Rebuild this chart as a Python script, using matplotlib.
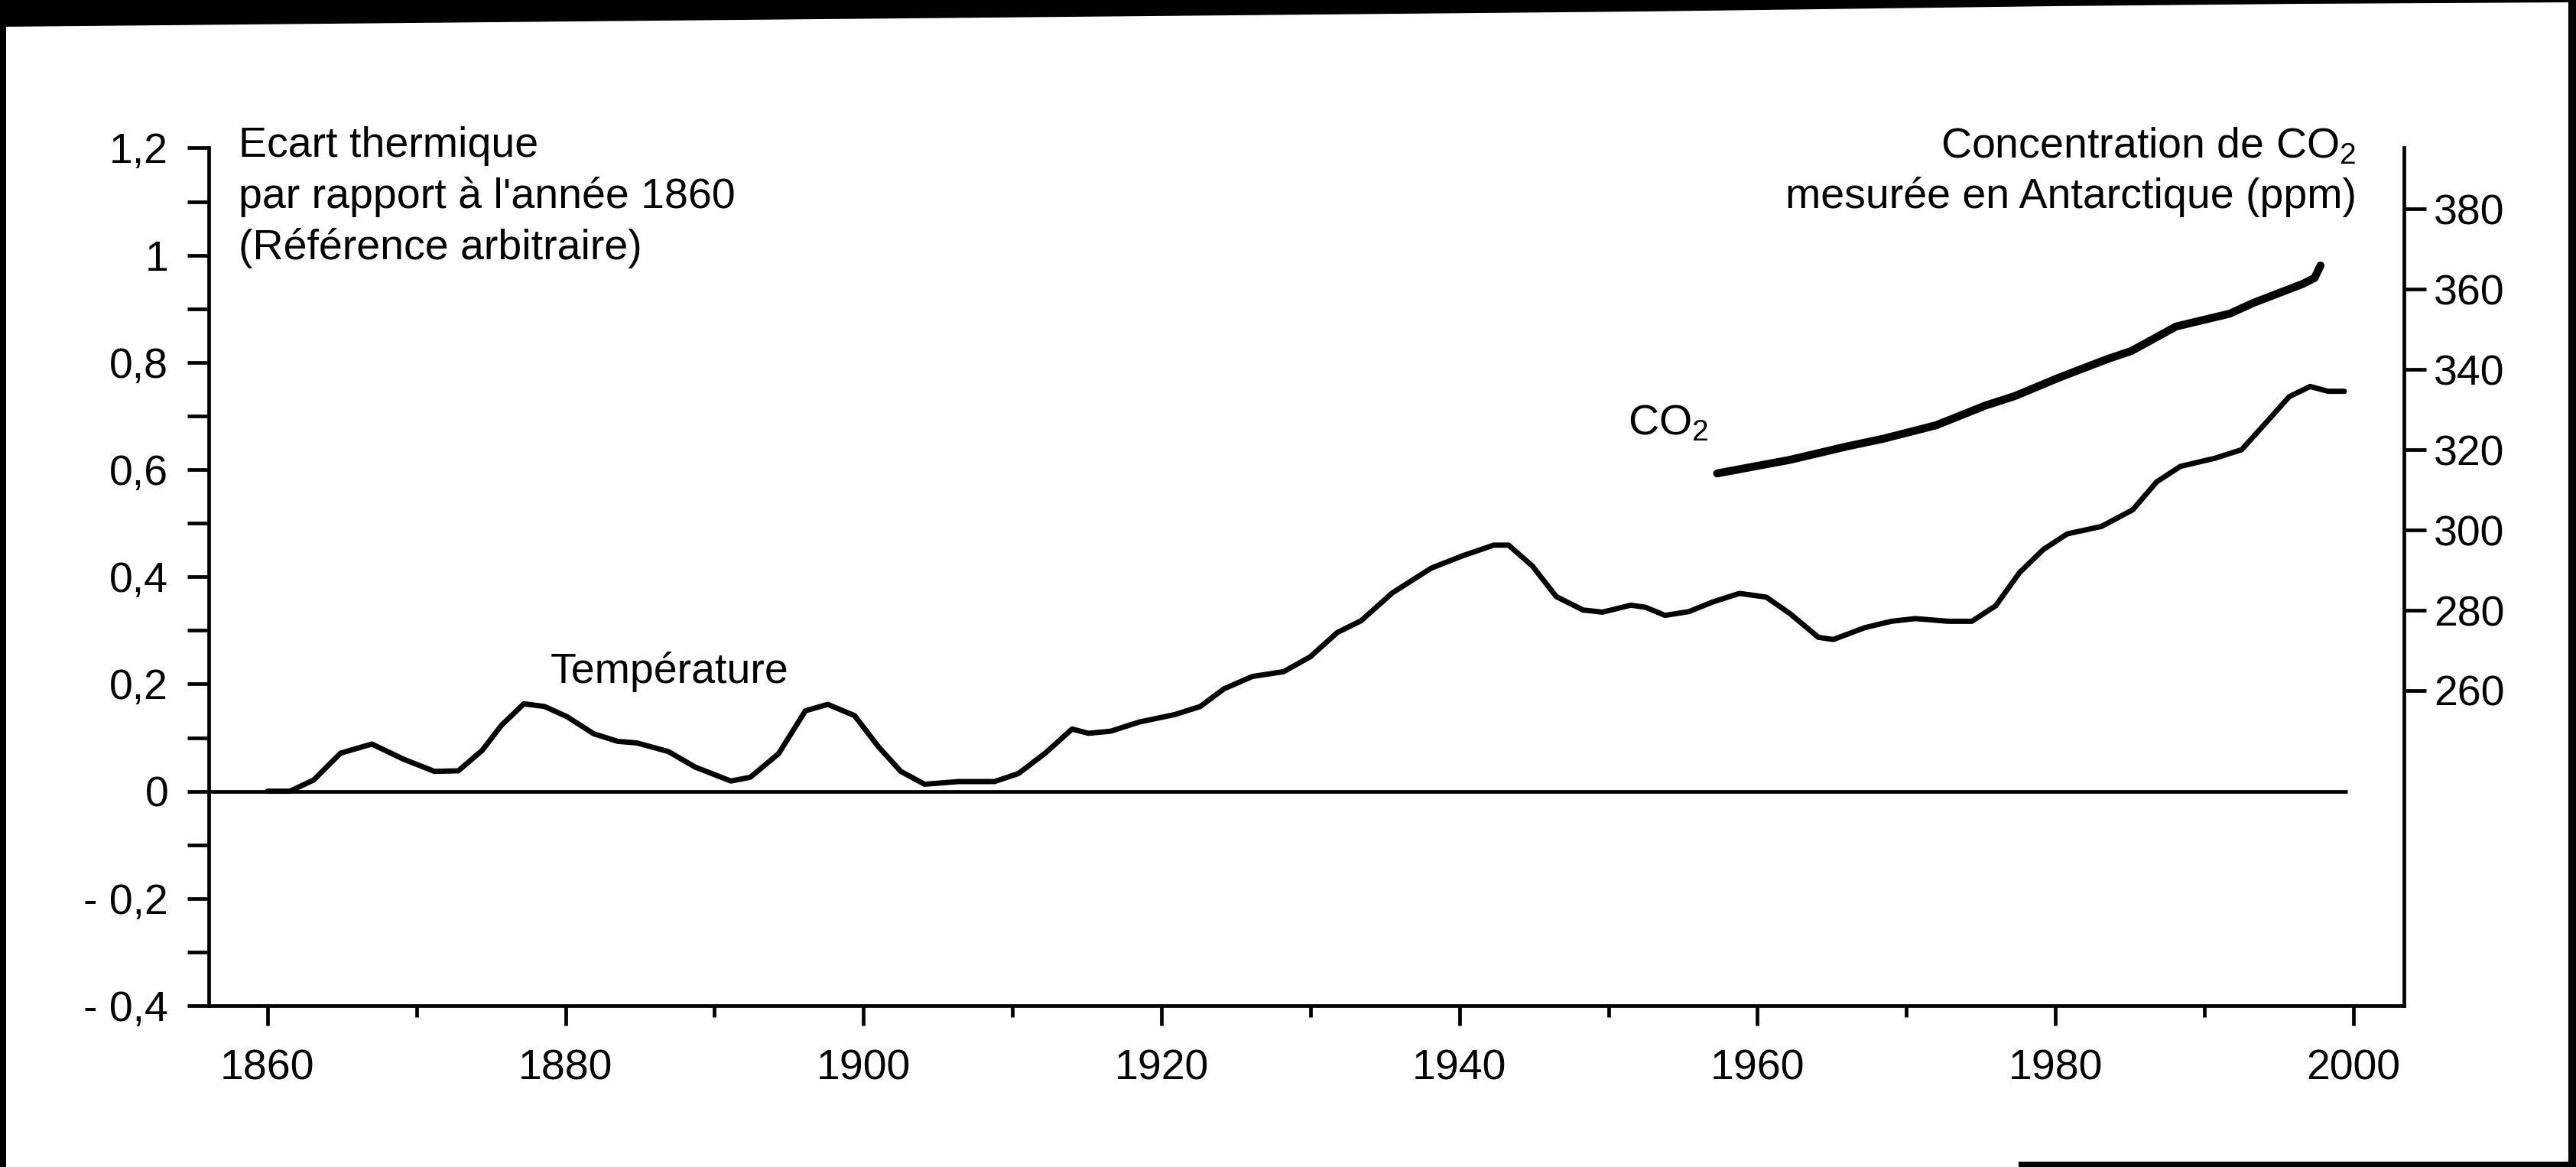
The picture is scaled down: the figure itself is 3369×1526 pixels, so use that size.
import matplotlib
matplotlib.use("Agg")
import matplotlib.pyplot as plt
from matplotlib.patches import Polygon, Rectangle
import numpy as np

plt.rcParams['font.family'] = ['Liberation Sans', 'DejaVu Sans']
plt.rcParams['mathtext.fontset'] = 'custom'
plt.rcParams['mathtext.rm'] = 'Liberation Sans'
plt.rcParams['mathtext.it'] = 'Liberation Sans:italic'
plt.rcParams['mathtext.bf'] = 'Liberation Sans:bold'

# Temperature anomaly relative to 1860
temp_years = [1860.0, 1861.5, 1863.1, 1864.9, 1867.0, 1869.1, 1871.2, 1872.8, 1874.4,
              1875.7, 1877.2, 1878.6, 1880.1, 1881.9, 1883.5, 1884.8, 1886.9, 1888.7,
              1891.1, 1892.4, 1894.3, 1896.1, 1897.6, 1899.4, 1901.0, 1902.5, 1904.1,
              1906.4, 1908.8, 1910.4, 1912.2, 1914.0, 1915.1, 1916.6, 1918.5, 1920.9,
              1922.6, 1924.2, 1926.1, 1928.2, 1930.0, 1931.8, 1933.4, 1935.5, 1938.1,
              1940.2, 1942.3, 1943.3, 1944.9, 1946.5, 1948.3, 1949.6, 1951.5, 1952.5,
              1953.8, 1955.4, 1957.0, 1958.8, 1960.6, 1962.2, 1964.1, 1965.1, 1967.2,
              1969.0, 1970.6, 1972.8, 1974.4, 1976.0, 1977.6, 1979.2, 1980.8, 1983.1,
              1985.2, 1986.8, 1988.4, 1990.7, 1992.5, 1993.9, 1995.7, 1997.1, 1998.3,
              1999.4]
temp_values = [0.0, 0.0, 0.021, 0.071, 0.088, 0.060, 0.037, 0.038, 0.076,
               0.123, 0.163, 0.158, 0.139, 0.107, 0.093, 0.090, 0.074, 0.045,
               0.019, 0.026, 0.070, 0.150, 0.162, 0.141, 0.083, 0.037, 0.013,
               0.018, 0.018, 0.033, 0.071, 0.116, 0.108, 0.112, 0.129, 0.143,
               0.158, 0.191, 0.214, 0.223, 0.251, 0.296, 0.318, 0.370, 0.416,
               0.439, 0.459, 0.459, 0.420, 0.363, 0.338, 0.334, 0.347, 0.343,
               0.328, 0.335, 0.353, 0.369, 0.362, 0.331, 0.287, 0.283, 0.305,
               0.317, 0.322, 0.317, 0.317, 0.346, 0.408, 0.451, 0.480, 0.494,
               0.525, 0.577, 0.606, 0.621, 0.637, 0.680, 0.736, 0.755, 0.746,
               0.746]

# CO2 concentration measured in Antarctica (ppm)
co2_years = [1957.3, 1962.2, 1966.1, 1968.4, 1972.0, 1975.3, 1977.3, 1980.2,
             1983.5, 1985.1, 1988.1, 1991.7, 1993.3, 1996.6, 1997.4, 1997.8]
co2_ppm = [314.1, 317.5, 320.9, 322.7, 326.1, 331.0, 333.4, 337.9,
           342.6, 344.6, 350.7, 353.9, 356.6, 361.3, 362.8, 365.9]

zero_line_end = 1999.6

temp_ticks = [-0.4, -0.2, 0.0, 0.2, 0.4, 0.6, 0.8, 1.0, 1.2]
temp_ticklabels = ['- 0,4', '- 0,2', '0', '0,2', '0,4', '0,6', '0,8', '1', '1,2']
temp_minor = [-0.3, -0.1, 0.1, 0.3, 0.5, 0.7, 0.9, 1.1]
co2_ticks = [260, 280, 300, 320, 340, 360, 380]
co2_ticklabels = ['260', '280', '300', '320', '340', '360', '380']
year_ticks = [1860, 1880, 1900, 1920, 1940, 1960, 1980, 2000]
year_minor = [1870, 1890, 1910, 1930, 1950, 1970, 1990]

left_title = ["Ecart thermique", "par rapport à l'année 1860", "(Référence arbitraire)"]
right_title = ["Concentration de CO$_2$", "mesurée en Antarctique (ppm)"]

W, H = 3369, 1526
FS = 40
LW = 3.4

fig = plt.figure(figsize=(W / 100, H / 100), dpi=100, facecolor='white')
ax = fig.add_axes([273 / W, 1 - 1315 / H, (3144 - 273) / W, (1315 - 193.4) / H])
ax.set_xlim(1856.05, 2003.4)
ax.set_ylim(-0.4, 1.2)

# zero reference line and temperature curve
ax.hlines(0, 1856.05, zero_line_end, color='black', lw=LW)
ax.plot(temp_years, temp_values, color='black', lw=5,
        solid_capstyle='round', solid_joinstyle='round')

ax.set_yticks(temp_ticks)
ax.set_yticklabels(temp_ticklabels)
ax.set_yticks(temp_minor, minor=True)
ax.set_xticks(year_ticks)
ax.set_xticklabels([str(y) for y in year_ticks])
ax.set_xticks(year_minor, minor=True)

ax.tick_params(axis='y', which='both', direction='out', length=20, width=LW,
               labelsize=FS, pad=18)
ax.tick_params(axis='x', which='major', direction='out', length=19, width=LW,
               labelsize=FS, pad=22)
ax.tick_params(axis='x', which='minor', direction='out', length=11, width=LW)
for side in ['top', 'right']:
    ax.spines[side].set_visible(False)
for side in ['left', 'bottom']:
    ax.spines[side].set_linewidth(LW)

# CO2 on the right axis
ax2 = ax.twinx()
ax2.set_ylim(181.5, 395.2)
ax2.plot(co2_years, co2_ppm, color='black', lw=7.5,
         solid_capstyle='round', solid_joinstyle='round')
ax2.set_yticks(co2_ticks)
ax2.set_yticklabels(co2_ticklabels)
ax2.tick_params(axis='y', direction='out', length=21, width=LW, labelsize=FS, pad=7)
for side in ['top', 'left', 'bottom']:
    ax2.spines[side].set_visible(False)
ax2.spines['right'].set_linewidth(LW)

# annotations
for i, line in enumerate(left_title):
    fig.text(312 / W, 1 - (205 + 67 * i) / H, line, fontsize=FS, ha='left', va='baseline')
for i, line in enumerate(right_title):
    fig.text(3082 / W, 1 - (206 + 66 * i) / H, line, fontsize=FS, ha='right', va='baseline')
fig.text(720 / W, 1 - 893 / H, "Température", fontsize=FS, ha='left', va='baseline')
fig.text(2235 / W, 1 - 568 / H, "CO$_2$", fontsize=FS, ha='right', va='baseline')

# dark scan borders
band = [(0, 0), (3369, 0), (3369, 3), (3010, 5), (2688, 8), (2150, 15), (1290, 23), (0, 35)]
fig.add_artist(Polygon([(x / W, 1 - y / H) for x, y in band], closed=True,
                       transform=fig.transFigure, color='black', lw=0))
fig.add_artist(Rectangle((0, 0), 8 / W, 1, transform=fig.transFigure, color='black', lw=0))
fig.add_artist(Rectangle((1 - 10 / W, 0), 10 / W, 1, transform=fig.transFigure,
                         color='black', lw=0))
fig.add_artist(Rectangle((2640 / W, 0), 1 - 2640 / W, 7 / H, transform=fig.transFigure,
                         color='black', lw=0))

fig.savefig('out.png', dpi=100, facecolor='white')
